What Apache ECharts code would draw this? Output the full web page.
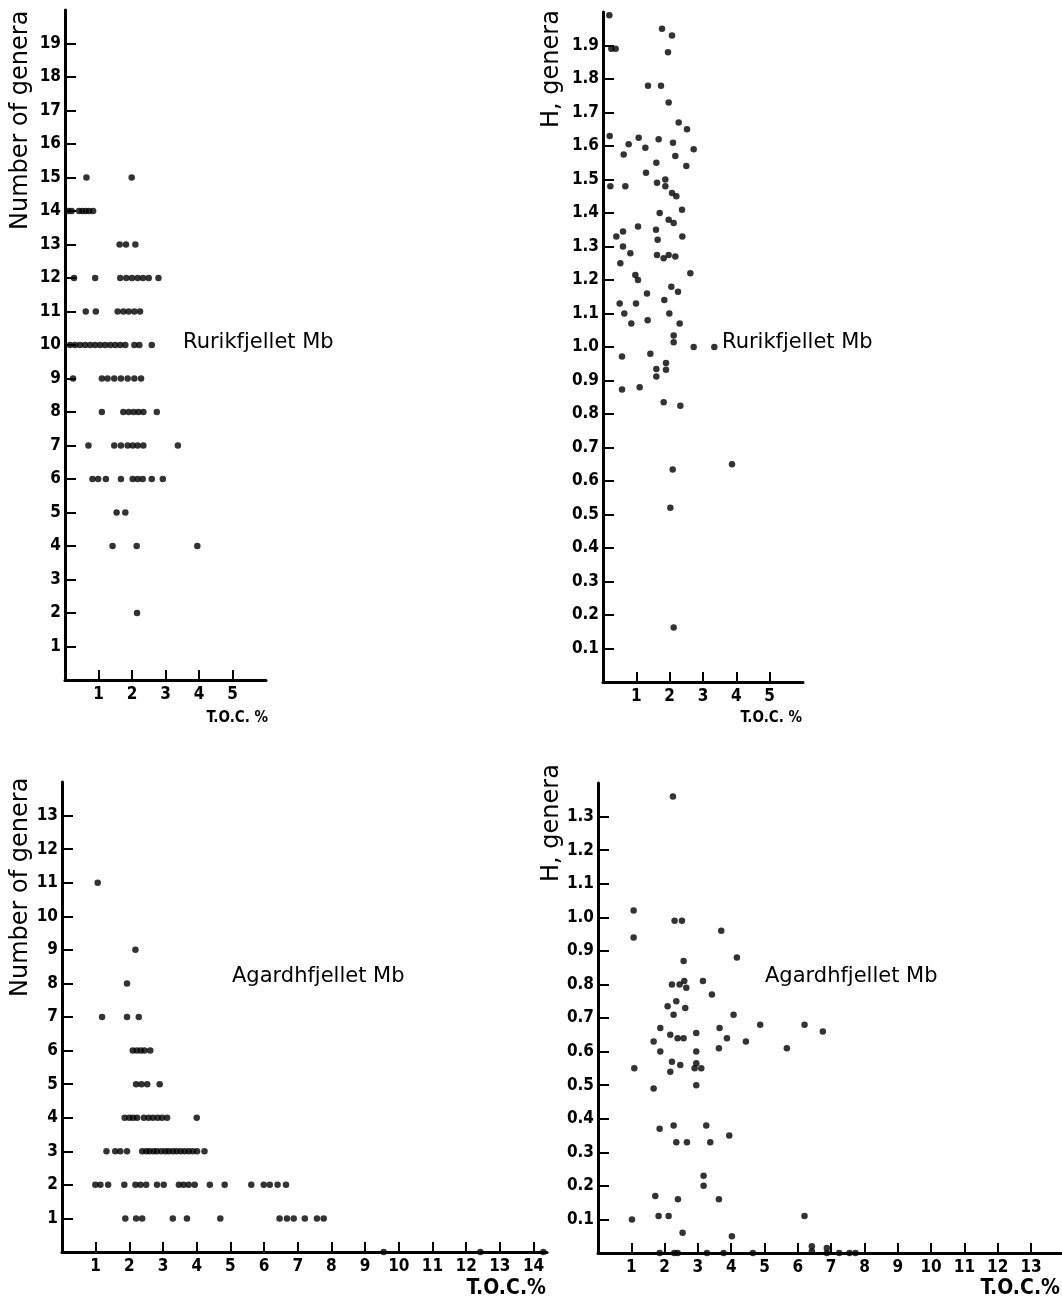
<!DOCTYPE html>
<html>
<head>
<meta charset="utf-8">
<script src="https://cdn.jsdelivr.net/npm/echarts@6/dist/echarts.min.js"></script>
<style>html,body{margin:0;padding:0;background:#fff}#c{width:1062px;height:1306px}</style>
</head>
<body>
<div id="c"></div>
<script>
// ---- Data: [T.O.C. %, value] ----
const rurikGenera = [
  [0.64,15],[1.99,15],
  [0.1,14],[0.2,14],[0.42,14],[0.52,14],[0.62,14],[0.72,14],[0.84,14],
  [1.63,13],[1.82,13],[2.1,13],
  [0.27,12],[0.9,12],[1.65,12],[1.83,12],[2.0,12],[2.17,12],[2.33,12],[2.5,12],[2.79,12],
  [0.62,11],[0.92,11],[1.57,11],[1.74,11],[1.9,11],[2.07,11],[2.24,11],
  [0.15,10],[0.3,10],[0.45,10],[0.6,10],[0.75,10],[0.9,10],[1.05,10],[1.2,10],[1.35,10],[1.5,10],[1.65,10],[1.8,10],[2.07,10],[2.22,10],[2.59,10],
  [0.24,9],[1.1,9],[1.27,9],[1.47,9],[1.67,9],[1.87,9],[2.07,9],[2.27,9],
  [1.1,8],[1.74,8],[1.9,8],[2.05,8],[2.19,8],[2.34,8],[2.74,8],
  [0.7,7],[1.47,7],[1.67,7],[1.87,7],[2.02,7],[2.17,7],[2.34,7],[3.37,7],
  [0.82,6],[0.99,6],[1.22,6],[1.67,6],[2.02,6],[2.17,6],[2.32,6],[2.59,6],[2.92,6],
  [1.54,5],[1.8,5],
  [1.42,4],[2.14,4],[3.95,4],
  [2.15,2]
];
const rurikH = [
  [0.19,1.99],[0.25,1.89],[0.38,1.89],[1.77,1.95],[2.07,1.93],[1.95,1.88],[1.35,1.78],[1.74,1.78],
  [1.97,1.73],[2.27,1.67],[2.52,1.65],[0.2,1.63],[1.07,1.625],[1.67,1.62],[0.77,1.605],[2.1,1.61],
  [2.72,1.59],[1.27,1.595],[0.62,1.575],[2.17,1.57],[1.6,1.55],[2.5,1.54],[1.29,1.52],[0.22,1.48],
  [0.67,1.48],[1.62,1.49],[1.87,1.5],[1.87,1.48],[2.07,1.46],[2.2,1.45],[2.37,1.41],[1.7,1.4],
  [1.97,1.38],[2.12,1.37],[0.4,1.33],[0.6,1.345],[1.05,1.36],[1.59,1.35],[1.64,1.32],[2.38,1.33],
  [0.6,1.3],[0.82,1.28],[1.62,1.275],[1.82,1.265],[1.97,1.275],[2.17,1.27],[0.52,1.25],[0.97,1.215],
  [1.05,1.2],[2.62,1.22],[2.05,1.18],[2.25,1.165],[1.32,1.16],[0.5,1.13],[0.99,1.13],[1.84,1.14],
  [0.64,1.1],[1.99,1.1],[0.85,1.07],[1.34,1.08],[2.3,1.07],
  [2.12,1.034],[2.12,1.014],[2.72,1.0],[3.34,1.0],[0.57,0.972],[0.57,0.873],[1.1,0.88],[1.42,0.98],
  [1.6,0.934],[1.6,0.912],[1.89,0.952],[1.89,0.932],[1.82,0.835],[2.32,0.825],[2.09,0.634],[3.87,0.65],
  [2.02,0.52],[2.12,0.163]
];
const agardhGenera = [
  [1.06,11],[2.18,9],[1.93,8],
  [1.19,7],[1.93,7],[2.28,7],
  [2.1,6],[2.22,6],[2.34,6],[2.45,6],[2.62,6],
  [2.2,5],[2.36,5],[2.53,5],[2.9,5],
  [1.86,4],[2.0,4],[2.11,4],[2.23,4],[2.43,4],[2.57,4],[2.7,4],[2.84,4],[2.97,4],[3.12,4],[4.0,4],
  [1.32,3],[1.58,3],[1.73,3],[1.93,3],[2.38,3],[2.5,3],[2.6,3],[2.72,3],[2.82,3],[2.95,3],[3.07,3],[3.17,3],[3.29,3],[3.4,3],[3.52,3],[3.64,3],[3.76,3],[3.88,3],[4.01,3],[4.23,3],
  [0.99,2],[1.14,2],[1.37,2],[1.85,2],[2.18,2],[2.33,2],[2.5,2],[2.82,2],[3.02,2],[3.47,2],[3.61,2],[3.76,2],[3.94,2],[4.39,2],[4.83,2],[5.62,2],[5.99,2],[6.17,2],[6.4,2],[6.65,2],
  [1.88,1],[2.2,1],[2.38,1],[3.29,1],[3.71,1],[4.7,1],[6.46,1],[6.68,1],[6.88,1],[7.21,1],[7.57,1],[7.77,1],
  [9.55,0],[12.42,0],[14.29,0]
];
const agardhH = [
  [2.25,1.36],[1.07,1.02],[1.07,0.94],[2.3,0.99],[2.52,0.99],[3.7,0.96],[4.17,0.88],[2.57,0.87],
  [2.22,0.8],[2.45,0.8],[2.59,0.81],[2.65,0.79],[3.15,0.81],[3.42,0.77],[2.09,0.735],[2.35,0.75],
  [2.27,0.71],[2.62,0.73],[4.07,0.71],[4.87,0.68],[6.2,0.68],[6.75,0.66],[1.87,0.67],[1.67,0.63],
  [1.87,0.6],[2.17,0.65],[2.39,0.64],[2.57,0.64],[2.95,0.655],[2.95,0.6],[3.65,0.67],[3.87,0.64],
  [3.63,0.61],[4.44,0.63],[5.67,0.61],[1.09,0.55],[2.22,0.57],[2.17,0.54],[2.47,0.56],[2.95,0.565],
  [2.9,0.55],[3.1,0.55],[1.67,0.49],[2.95,0.5],[2.27,0.38],[1.85,0.37],[2.35,0.33],[2.67,0.33],
  [3.25,0.38],[3.37,0.33],[3.94,0.35],[3.17,0.23],[3.17,0.2],[1.72,0.17],[2.4,0.16],[3.63,0.16],
  [1.82,0.11],[2.12,0.11],[1.02,0.1],[6.2,0.11],[2.54,0.06],[4.02,0.05],
  [1.85,0],[2.29,0],[2.39,0],[3.27,0],[3.77,0],[4.65,0],[6.42,0.02],[6.42,0.005],[6.87,0.015],[6.87,0],[7.24,0],[7.55,0],[7.73,0]
];
// ---- Tick labels ----
const tocTicksShort = [1,2,3,4,5];
const tocTicksLong1 = [1,2,3,4,5,6,7,8,9,10,11,12,13,14];
const tocTicksLong2 = [1,2,3,4,5,6,7,8,9,10,11,12,13];
const generaTicksTop = [1,2,3,4,5,6,7,8,9,10,11,12,13,14,15,16,17,18,19];
const generaTicksBottom = [1,2,3,4,5,6,7,8,9,10,11,12,13];
const hTicksTop = [0.1,0.2,0.3,0.4,0.5,0.6,0.7,0.8,0.9,1.0,1.1,1.2,1.3,1.4,1.5,1.6,1.7,1.8,1.9];
const hTicksBottom = [0.1,0.2,0.3,0.4,0.5,0.6,0.7,0.8,0.9,1.0,1.1,1.2,1.3];

const FONT = 'DejaVu Sans Condensed';
const FONT2 = 'DejaVu Sans';
const lbl = {color:'#000', fontFamily: FONT, fontWeight:'bold', fontSize:17};

function xAxis(gi, max, ticks) {
  return {
    type:'value', gridIndex: gi, min:0, max:max,
    axisLine:{show:true, onZero:false, lineStyle:{color:'#000', width:3}},
    axisTick:{show:true, inside:true, length:10, customValues:ticks, lineStyle:{color:'#000', width:2}},
    axisLabel:Object.assign({show:true, margin:6, customValues:ticks}, lbl),
    splitLine:{show:false}
  };
}
function yAxis(gi, max, ticks, dec) {
  return {
    type:'value', gridIndex: gi, min:0, max:max,
    axisLine:{show:true, onZero:false, lineStyle:{color:'#000', width:3}},
    axisTick:{show:true, inside:true, length:11, customValues:ticks, lineStyle:{color:'#000', width:2}},
    axisLabel:Object.assign({show:true, margin:4, customValues:ticks,
      formatter: v => dec ? Number(v).toFixed(1) : String(Math.round(v))}, lbl),
    splitLine:{show:false}
  };
}
function sc(i, data) {
  return {type:'scatter', xAxisIndex:i, yAxisIndex:i, data:data, symbol:'circle', symbolSize:6.5,
          itemStyle:{color:'#000'}, clip:false, silent:true, animation:false};
}
const nameFont = '24px "'+FONT2+'"';
const mbFont = '21px "'+FONT2+'"';

const chart = echarts.init(document.getElementById('c'), null, {renderer:'canvas'});
chart.setOption({
  animation:false,
  backgroundColor:'#fff',
  grid:[
    {left:65, top:10, width:201, height:670},
    {left:603, top:12, width:200, height:670},
    {left:62, top:782, width:485, height:470},
    {left:598, top:783, width:463, height:470}
  ],
  xAxis:[xAxis(0,6,tocTicksShort), xAxis(1,6,tocTicksShort), xAxis(2,14.4,tocTicksLong1), xAxis(3,13.9,tocTicksLong2)],
  yAxis:[yAxis(0,20,generaTicksTop,false), yAxis(1,2,hTicksTop,true), yAxis(2,14,generaTicksBottom,false), yAxis(3,1.4,hTicksBottom,true)],
  series:[sc(0,rurikGenera), sc(1,rurikH), sc(2,agardhGenera), sc(3,agardhH)],
  graphic:[
    {type:'text', x:9, y:230, rotation:Math.PI/2, style:{text:'Number of genera', fill:'#000', font:nameFont}},
    {type:'text', x:9, y:997, rotation:Math.PI/2, style:{text:'Number of genera', fill:'#000', font:nameFont}},
    {type:'text', x:540, y:128, rotation:Math.PI/2, style:{text:'H, genera', fill:'#000', font:nameFont}},
    {type:'text', x:540, y:882, rotation:Math.PI/2, style:{text:'H, genera', fill:'#000', font:nameFont}},
    {type:'text', x:183, y:332, style:{text:'Rurikfjellet Mb', fill:'#000', font:mbFont}},
    {type:'text', x:722, y:332, style:{text:'Rurikfjellet Mb', fill:'#000', font:mbFont}},
    {type:'text', x:232, y:966, style:{text:'Agardhfjellet Mb', fill:'#000', font:mbFont}},
    {type:'text', x:765, y:966, style:{text:'Agardhfjellet Mb', fill:'#000', font:mbFont}},
    {type:'text', x:268, y:711, style:{text:'T.O.C. %', fill:'#000', font:'bold 15px "'+FONT+'"', align:'right'}},
    {type:'text', x:802, y:711, style:{text:'T.O.C. %', fill:'#000', font:'bold 15px "'+FONT+'"', align:'right'}},
    {type:'text', x:546, y:1278, style:{text:'T.O.C.%', fill:'#000', font:'bold 21px "'+FONT+'"', align:'right'}},
    {type:'text', x:1060, y:1278, style:{text:'T.O.C.%', fill:'#000', font:'bold 21px "'+FONT+'"', align:'right'}}
  ]
});
</script>
</body>
</html>
